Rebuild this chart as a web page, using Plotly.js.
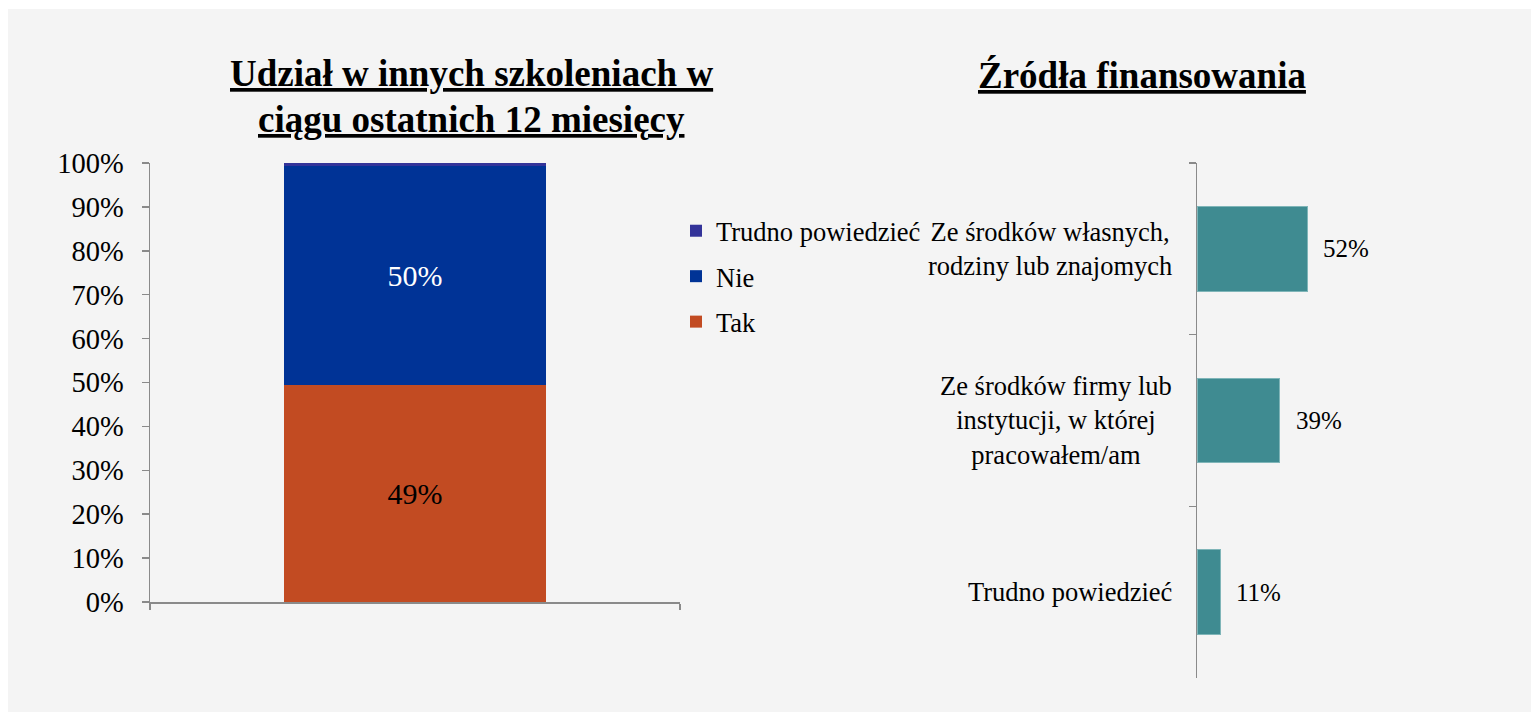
<!DOCTYPE html>
<html>
<head>
<meta charset="utf-8">
<script src="https://cdn.plot.ly/plotly-3.0.1.min.js"></script>
<style>
html, body { margin: 0; padding: 0; background: #ffffff; }
#chart { width: 1531px; height: 712px; }
</style>
</head>
<body>
<div id="chart"></div>
<script>
// ---- Data ----
const participationCategory = ['Udział w szkoleniach'];
const seriesNames = ['Tak', 'Nie', 'Trudno powiedzieć'];
const takValues = [0.494];
const nieValues = [0.500];
const trudnoValues = [0.006];

const fundingCategories = [
  'Ze środków własnych,<br>rodziny lub znajomych',
  'Ze środków firmy lub<br>instytucji, w której<br>pracowałem/am',
  'Trudno powiedzieć'
];
const fundingValues = [0.52, 0.39, 0.11];

const leftTitleLines = ['Udział w innych szkoleniach w', 'ciągu ostatnich 12 miesięcy'];
const rightTitle = 'Źródła finansowania';

// ---- Styling ----
const FONT = 'Liberation Serif, Times New Roman, serif';
const W = 1531, H = 712;
const px = v => v / W;
const py = v => 1 - v / H;
const axisColor = '#8a8a8a';

const traces = [
  {
    type: 'bar', name: seriesNames[0], x: participationCategory, y: takValues,
    marker: { color: '#c24b22' }, legendgroup: 'g1', legendrank: 3,
    texttemplate: '%{y:.0%}', textposition: 'inside', insidetextanchor: 'middle',
    textfont: { family: FONT, size: 30, color: '#000000' },
    hoverinfo: 'none', xaxis: 'x', yaxis: 'y'
  },
  {
    type: 'bar', name: seriesNames[1], x: participationCategory, y: nieValues,
    marker: { color: '#003396' }, legendgroup: 'g2', legendrank: 2,
    texttemplate: '%{y:.0%}', textposition: 'inside', insidetextanchor: 'middle',
    textfont: { family: FONT, size: 30, color: '#ffffff' },
    hoverinfo: 'none', xaxis: 'x', yaxis: 'y'
  },
  {
    type: 'bar', name: seriesNames[2], x: participationCategory, y: trudnoValues,
    marker: { color: '#333399' }, legendgroup: 'g3', legendrank: 1,
    textposition: 'none',
    hoverinfo: 'none', xaxis: 'x', yaxis: 'y'
  },
  {
    type: 'bar', orientation: 'h', x: fundingValues, y: fundingCategories,
    marker: { color: '#3f8b91', line: { color: '#7fb5b8', width: 1 } },
    showlegend: false, hoverinfo: 'none', textposition: 'none',
    xaxis: 'x2', yaxis: 'y2'
  }
];

const annotations = [];
// titles
annotations.push({
  xref: 'paper', yref: 'paper', x: px(471), y: py(74), xanchor: 'center', yanchor: 'middle',
  text: '<b><u>' + leftTitleLines[0] + '</u></b>', showarrow: false,
  font: { family: FONT, size: 37, color: '#000000' }
});
annotations.push({
  xref: 'paper', yref: 'paper', x: px(471), y: py(119.5), xanchor: 'center', yanchor: 'middle',
  text: '<b><u>' + leftTitleLines[1] + '</u></b>', showarrow: false,
  font: { family: FONT, size: 37, color: '#000000' }
});
annotations.push({
  xref: 'paper', yref: 'paper', x: px(1141.5), y: py(75), xanchor: 'center', yanchor: 'middle',
  text: '<b><u>' + rightTitle + '</u></b>', showarrow: false,
  font: { family: FONT, size: 37, color: '#000000' }
});
// category labels & value labels for funding chart
fundingCategories.forEach((c, i) => {
  annotations.push({
    xref: 'paper', yref: 'y2', x: px(1174), y: i, xanchor: 'right', yanchor: 'middle',
    align: 'center', text: c, showarrow: false,
    font: { family: FONT, size: 26.5, color: '#000000' }
  });
  annotations.push({
    xref: 'x2', yref: 'y2', x: fundingValues[i], y: i, xanchor: 'left', yanchor: 'middle',
    xshift: 14, text: Math.round(fundingValues[i] * 100) + '%', showarrow: false,
    font: { family: FONT, size: 25, color: '#000000' }
  });
});

const layout = {
  width: W, height: H, autosize: false,
  margin: { l: 0, r: 0, t: 0, b: 0, pad: 0 },
  paper_bgcolor: '#ffffff',
  plot_bgcolor: 'rgba(0,0,0,0)',
  barmode: 'stack',
  bargap: 0.505,
  font: { family: FONT, color: '#000000' },
  showlegend: true,
  legend: {
    x: px(676), y: py(207), xanchor: 'left', yanchor: 'top',
    traceorder: 'grouped', tracegroupgap: 8,
    bgcolor: 'rgba(0,0,0,0)',
    font: { family: FONT, size: 26.5, color: '#000000' }
  },
  shapes: [{
    type: 'rect', xref: 'paper', yref: 'paper', layer: 'below',
    x0: px(8), x1: 1, y0: 0, y1: py(9),
    fillcolor: '#f4f4f4', line: { width: 0 }
  }],
  xaxis: {
    domain: [px(150), px(680)], anchor: 'y', type: 'category',
    showline: true, linecolor: axisColor, linewidth: 1.5,
    ticks: 'outside', ticklen: 6, tickwidth: 1.5, tickcolor: axisColor,
    tickson: 'boundaries', showticklabels: false, showgrid: false, zeroline: false,
    fixedrange: true
  },
  yaxis: {
    domain: [py(602), py(163)], anchor: 'x', range: [0, 1],
    dtick: 0.1, tick0: 0, tickformat: '.0%',
    showline: true, linecolor: axisColor, linewidth: 1.5,
    ticks: 'outside', ticklen: 7, tickwidth: 1.5, tickcolor: axisColor,
    ticklabelstandoff: 12,
    tickfont: { family: FONT, size: 28.5, color: '#000000' },
    showgrid: false, zeroline: false, fixedrange: true
  },
  xaxis2: {
    domain: [px(1197), px(1409)], anchor: 'y2', range: [0, 1],
    visible: false, fixedrange: true
  },
  yaxis2: {
    domain: [py(678), py(163)], anchor: 'x2', type: 'category',
    categoryorder: 'array', categoryarray: fundingCategories,
    range: [2.5, -0.5],
    showline: true, linecolor: axisColor, linewidth: 1.5,
    ticks: 'outside', ticklen: 7, tickwidth: 1.5, tickcolor: axisColor,
    tickson: 'boundaries', showticklabels: false, showgrid: false, zeroline: false,
    fixedrange: true
  },
  annotations: annotations
};

Plotly.newPlot('chart', traces, layout, { displayModeBar: false, staticPlot: true });
</script>
</body>
</html>
